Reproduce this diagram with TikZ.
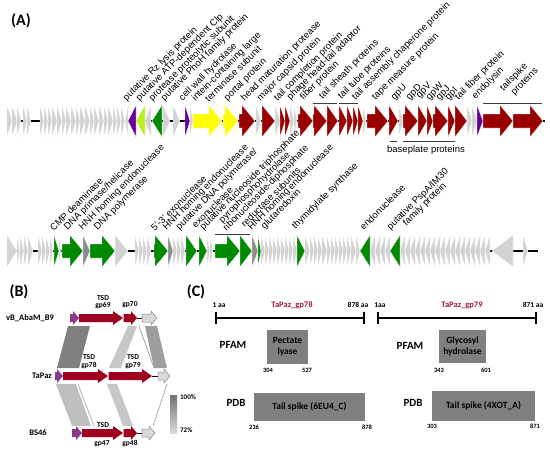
\documentclass[tikz,border=0pt]{standalone}
\usepackage{fontspec}
\setmainfont{Liberation Sans}
\newfontfamily\calib{Carlito}
\definecolor{lg}{HTML}{D3D3D3}
\definecolor{dg}{HTML}{8C8C8C}
\definecolor{rd}{HTML}{990000}
\definecolor{gn}{HTML}{008A00}
\definecolor{pu}{HTML}{660099}
\definecolor{yl}{HTML}{FFFF00}
\definecolor{lm}{HTML}{B8F020}
\definecolor{rdb}{HTML}{A00020}
\definecolor{pub}{HTML}{8B3A8B}
\definecolor{lgb}{HTML}{D9D9D9}
\definecolor{boxg}{HTML}{808080}
\definecolor{ttl}{HTML}{A01C3C}
\newcommand\gR[7]{%
  \pgfmathsetmacro\myhs{max(#1,#2-#6)}%
  \filldraw[#7] (#1,#3-#5) -- (\myhs,#3-#5) -- (\myhs,#3-#4) -- (#2,#3) -- (\myhs,#3+#4) -- (\myhs,#3+#5) -- (#1,#3+#5) -- cycle;}
\newcommand\gL[7]{%
  \pgfmathsetmacro\myhs{min(#2,#1+#6)}%
  \filldraw[#7] (#2,#3-#5) -- (\myhs,#3-#5) -- (\myhs,#3-#4) -- (#1,#3) -- (\myhs,#3+#4) -- (\myhs,#3+#5) -- (#2,#3+#5) -- cycle;}
\tikzset{
  lab/.style={rotate=45,anchor=south west,inner sep=0pt,font=\fontsize{9.5}{10}\selectfont},
  cb/.style={font=\calib\bfseries\fontsize{#1}{#1}\selectfont,inner sep=0pt},
  gA/.style={fill=#1,draw=white,line width=.3pt},
  brk/.style={line width=.8pt,black!75},
  band/.style={fill=#1,draw=none},
}
\begin{document}
\begin{tikzpicture}[x=1pt,y=-1pt]
\useasboundingbox[fill=white] (0,0) rectangle (550,453);
\node[cb=16] (lA) at (21,21) {(A)};
% ---------- row 1 ----------
\draw[line width=2.5pt] (7,121) -- (545,121);
\foreach \a/\b/\c in {7/12/lg,12/17/lg,17/21/lg,23/27/lg,27/31/lg,40/44/lg,44/48/lg,48/52/lg,52/57/lg,57/62/lg,62/66/lg,66/71/lg,71/76/lg,76/80/lg,80/85/lg,85/90/lg,90/94/lg,94/99/lg,99/104/lg,104/108/lg,108/113/lg,113/117/lg,117/121/lg,121/125/lg,163/170/lg,173/180/lg,185/190/pu,190/193/lg,193/222/yl,223/238/yl,239/255/rd,256/261/lg,262/275/rd,275/280/lg,280/285/rd,285/290/rd,290/294/lg,294/297/lg,298/313/rd,313/327/rd,327/338/rd,339/347/rd,347/353/rd,353/358/rd,358/363/rd,363/366/lg,367/388/rd,389/398/rd,399/403/lg,403/418/rd,418/427/rd,427/433/rd,433/448/rd,448/455/rd,455/467/rd,467/472/lg,472/477/lg,477/483/pu,483/513/rd,513/543/rd}
  {\gR{\a}{\b}{121}{16}{7}{13}{gA=\c}}
\foreach \a/\b/\c in {125/128/lg,128/136/pu,136/145/lm,145/151/lg,152/162/gn}
  {\gL{\a}{\b}{121}{16}{7}{13}{gA=\c}}
\draw[brk] (313,103.5) -- (337,103.5);
\draw[brk] (339,103.5) -- (358,103.5);
\draw[brk] (483,103.5) -- (542,103.5);
\draw[brk] (390,141) -- (397,141);
\draw[brk] (403,141) -- (455,141);
\node[font=\fontsize{9.5}{10}\selectfont] (bp) at (426,150) {baseplate proteins};
\node[lab] (a1) at (128,103) {putative Rz lysis protein};
\node[lab] (a2a) at (141,103) {putative ATP-dependent Clp};
\node[lab] (a2b) at (154,103) {protease proteolytic subunit};
\node[lab] (a3) at (166,103) {putative PhoH family protein};
\node[lab] (a4) at (184,103) {cell wall hydrolase};
\node[lab] (a5a) at (197,103) {intein-containing large};
\node[lab] (a5b) at (209,103) {terminase subunit};
\node[lab] (a6) at (229,103) {portal protein};
\node[lab] (a7) at (246,103) {head maturation protease};
\node[lab] (a8) at (262,103) {major capsid protein};
\node[lab] (a9) at (279,103) {tail completion protein};
\node[lab] (a10) at (292,102) {phage head-tail adaptor};
\node[lab] (a11) at (305,102) {fiber protein};
\node[lab] (a12) at (324,101) {tail sheath proteins};
\node[lab] (a13) at (343,101) {tail tube proteins};
\node[lab] (a14) at (357,102) {tail assembly chaperone protein};
\node[lab] (a15) at (377,102) {tape measure protein};
\node[lab] (a16) at (396,102) {gpU};
\node[lab] (a17) at (411,102) {gpD};
\node[lab] (a18) at (421,100) {gpV};
\node[lab] (a19) at (431,102) {gpW};
\node[lab] (a20) at (441,102) {gpJ};
\node[lab] (a21) at (450,102) {gpI};
\node[lab] (a22) at (460,102) {tail fiber protein};
\node[lab] (a23) at (477,101) {endolysin};
\node[lab] (a24a) at (505,93) {tailspike};
\node[lab] (a24b) at (516,97) {proteins};
% ---------- row 2 ----------
\draw[line width=2.5pt] (7,251) -- (538,251);
\foreach \a/\b/\c in {7/17/lg,17/20/lg,20/24/lg,24/28/lg,28/33/lg,38/42/lg,42/46/lg,46/50/lg,50/53/lg,54/59/gn,59/61/lg,62/83/gn,83/90/dg,90/115/gn,115/128/lg,135/139/lg,139/143/lg,143/147/lg,147/151/lg,154/168/gn,168/173/dg,173/177/lg,177/181/lg,181/185/lg,186/197/gn,199/207/gn,207/210/lg,210/213/lg,215/240/gn,240/252/gn,252/258/dg,258/261/gn,261/265/lg,265/269/lg,269/273/lg,273/277/lg,277/281/lg,281/285/lg,285/289/lg,289/293/lg,293/297/lg,297/305/gn,305/310/lg,310/314/lg,314/318/lg,318/322/lg,322/327/lg,327/331/lg,331/335/lg,335/339/lg,339/343/lg,343/347/lg,347/351/lg,351/356/lg,356/360/lg,523/528/lg}
  {\gR{\a}{\b}{251}{16}{7}{13}{gA=\c}}
\foreach \a/\b/\c in {360/370/gn,370/375/lg,375/380/lg,380/385/lg,385/390/lg,390/400/gn,400/405/lg,405/410/lg,410/415/lg,415/420/lg,420/425/lg,425/430/lg,430/435/lg,435/440/lg,440/445/lg,445/450/lg,450/455/lg,455/460/lg,460/465/lg,465/470/lg,470/475/lg,475/480/lg,480/485/lg,485/490/lg}
  {\gL{\a}{\b}{251}{16}{7}{13}{gA=\c}}
\gL{492}{513}{251}{16}{7}{21}{gA=lg}
\draw[brk] (215,234) -- (250,234);
\node[lab] (b1) at (54,232) {CMP deaminase};
\node[lab] (b2) at (69,232) {DNA primase/helicase};
\node[lab] (b3) at (84,232) {HNH homing endonuclease};
\node[lab] (b4) at (99,232) {DNA polymerase};
\node[lab] (b5) at (155,232) {5'-3' exonuclease};
\node[lab] (b6) at (168,232) {HNH homing endonuclease};
\node[lab] (b7a) at (181,232) {putative DNA polymerase/};
\node[lab] (b7b) at (196,229) {exonuclease};
\node[lab] (b8a) at (205,232) {putative nucleoside triphosphate};
\node[lab] (b8b) at (224,225) {pyrophosphohydrolase};
\node[lab] (b9a) at (228,233) {ribonucleoside-diphosphate};
\node[lab] (b9b) at (245,228) {reductase subunits};
\node[lab] (b10) at (253,232) {HNH homing endonuclease};
\node[lab] (b11) at (266,231) {glutaredoxin};
\node[lab] (b12) at (297,231) {thymidylate synthase};
\node[lab] (b13) at (364,231) {endonuclease};
\node[lab] (b14a) at (392,232) {putative PspA/IM30};
\node[lab] (b14b) at (408,228) {family protein};
% ---------- panel B ----------
\node[cb=16] (lB) at (19,292) {(B)};
\fill[band=black!50] (68,326) -- (90,326) -- (79,368) -- (57,368) -- cycle;
\fill[band=black!22] (128,326) -- (137,326) -- (121,368) -- (109,368) -- cycle;
\draw[black!35,line width=.8pt] (139,326) -- (154,368);
\fill[band=black!38] (145,326) -- (157,326) -- (167,368) -- (154,368) -- cycle;
\fill[band=black!25] (56,384) -- (76,384) -- (91,426) -- (72,426) -- cycle;
\draw[black!25,line width=1pt] (78,384) -- (94,426);
\fill[band=black!22] (107,384) -- (117,384) -- (133,426) -- (123,426) -- cycle;
\draw[black!30,line width=.8pt] (167,384) -- (153,426);
% B9
\gR{70}{79}{318}{7}{4}{6}{fill=pub,draw=none}
\gR{79}{123}{318}{7}{4}{10}{fill=rdb,draw=none}
\gR{123.5}{137}{318}{7}{4}{6}{fill=rdb,draw=none}
\draw[line width=.8pt] (137,318) -- (142,318);
\gR{142}{157}{318}{7}{4}{6}{fill=lgb,draw=black!45,line width=.5pt}
% TaPaz
\gR{55}{63}{376}{7}{4}{6}{fill=pub,draw=none}
\gR{63}{108}{376}{7}{4}{10}{fill=rdb,draw=none}
\gR{108.5}{152}{376}{7}{4}{10}{fill=rdb,draw=none}
\draw[line width=.8pt] (152,376) -- (158,376);
\gR{158}{170}{376}{7}{4}{6}{fill=lgb,draw=black!45,line width=.5pt}
% BS46
\gR{72}{82}{433}{7}{4}{6}{fill=pub,draw=none}
\gR{82}{123}{433}{7}{4}{10}{fill=rdb,draw=none}
\gR{123.5}{137}{433}{7}{4}{6}{fill=rdb,draw=none}
\draw[line width=.8pt] (137,433) -- (142,433);
\gR{142}{155}{433}{7}{4}{6}{fill=lgb,draw=black!45,line width=.5pt}
\node[cb=8.5] (nB9) at (30,318) {vB\_AbaM\_B9};
\node[cb=8.5] (nTa) at (42,376) {TaPaz};
\node[cb=8.5] (nBS) at (38,433) {BS46};
\node[cb=7.5,align=center] (g69) at (103,302) {TSD\\gp69};
\node[cb=7.5] (g70) at (130,305) {gp70};
\node[cb=7.5,align=center] (g78) at (89,361.5) {TSD\\gp78};
\node[cb=7.5,align=center] (g79) at (133,361.5) {TSD\\gp79};
\node[cb=7.5] (tsd47) at (103,425) {TSD};
\node[cb=7.5] (g47) at (102,444) {gp47};
\node[cb=7.5] (g48) at (130,444) {gp48};
\shade[top color=black!55,bottom color=black!15] (170,395) rectangle (177,433);
\node[cb=7,anchor=west] (p100) at (180,397) {100\%};
\node[cb=7,anchor=west] (p72) at (180,430) {72\%};
% ---------- panel C ----------
\node[cb=16] (lC) at (196,292) {(C)};
\coordinate (l1a) at (216,318); \coordinate (l1b) at (364,318);
\draw[line width=2.5pt] (l1a) -- (l1b);
\draw[line width=2.5pt] (216,312) -- (216,324);
\draw[line width=2.5pt] (364,312) -- (364,324);
\node[cb=7.5] (c1) at (219,305) {1 aa};
\node[cb=8.5,text=ttl] (c2) at (292,305) {TaPaz\_gp78};
\node[cb=7.5] (c3) at (358,305) {878 aa};
\node[cb=11] (c4) at (233,345) {PFAM};
\node[fill=boxg,minimum width=41pt,minimum height=34pt,inner sep=0pt,align=center,font=\calib\bfseries\fontsize{9.5}{11}\selectfont] (c5) at (287.5,347) {Pectate\\lyase};
\node[cb=6.5] (c6) at (268,370) {304};
\node[cb=6.5] (c7) at (307,370) {527};
\node[cb=11] (c8) at (236,403) {PDB};
\node[fill=boxg,minimum width=111pt,minimum height=28pt,inner sep=0pt,font=\calib\bfseries\fontsize{9.5}{11}\selectfont] (c9) at (309.5,407) {Tail spike (6EU4\_C)};
\node[cb=6.5] (c10) at (254,427) {236};
\node[cb=6.5] (c11) at (367,427) {878};
\coordinate (l2a) at (378,318); \coordinate (l2b) at (536,318);
\draw[line width=2.5pt] (l2a) -- (l2b);
\draw[line width=2.5pt] (378,312) -- (378,324);
\draw[line width=2.5pt] (536,312) -- (536,324);
\node[cb=7.5] (d1) at (380,305) {1aa};
\node[cb=8.5,text=ttl] (d2) at (462,305) {TaPaz\_gp79};
\node[cb=7.5] (d3) at (533,305) {871 aa};
\node[cb=11] (d4) at (410,346) {PFAM};
\node[fill=boxg,minimum width=47pt,minimum height=33pt,inner sep=0pt,align=center,font=\calib\bfseries\fontsize{9.5}{11}\selectfont] (d5) at (462.5,346.5) {Glycosyl\\hydrolase};
\node[cb=6.5] (d6) at (439,370) {343};
\node[cb=6.5] (d7) at (486,370) {601};
\node[cb=11] (d8) at (413,403) {PDB};
\node[fill=boxg,minimum width=103pt,minimum height=30pt,inner sep=0pt,font=\calib\bfseries\fontsize{9.5}{11}\selectfont] (d9) at (483.5,406) {Tail spike (4XOT\_A)};
\node[cb=6.5] (d10) at (432,426) {303};
\node[cb=6.5] (d11) at (535,426) {871};
\end{tikzpicture}
\end{document}
